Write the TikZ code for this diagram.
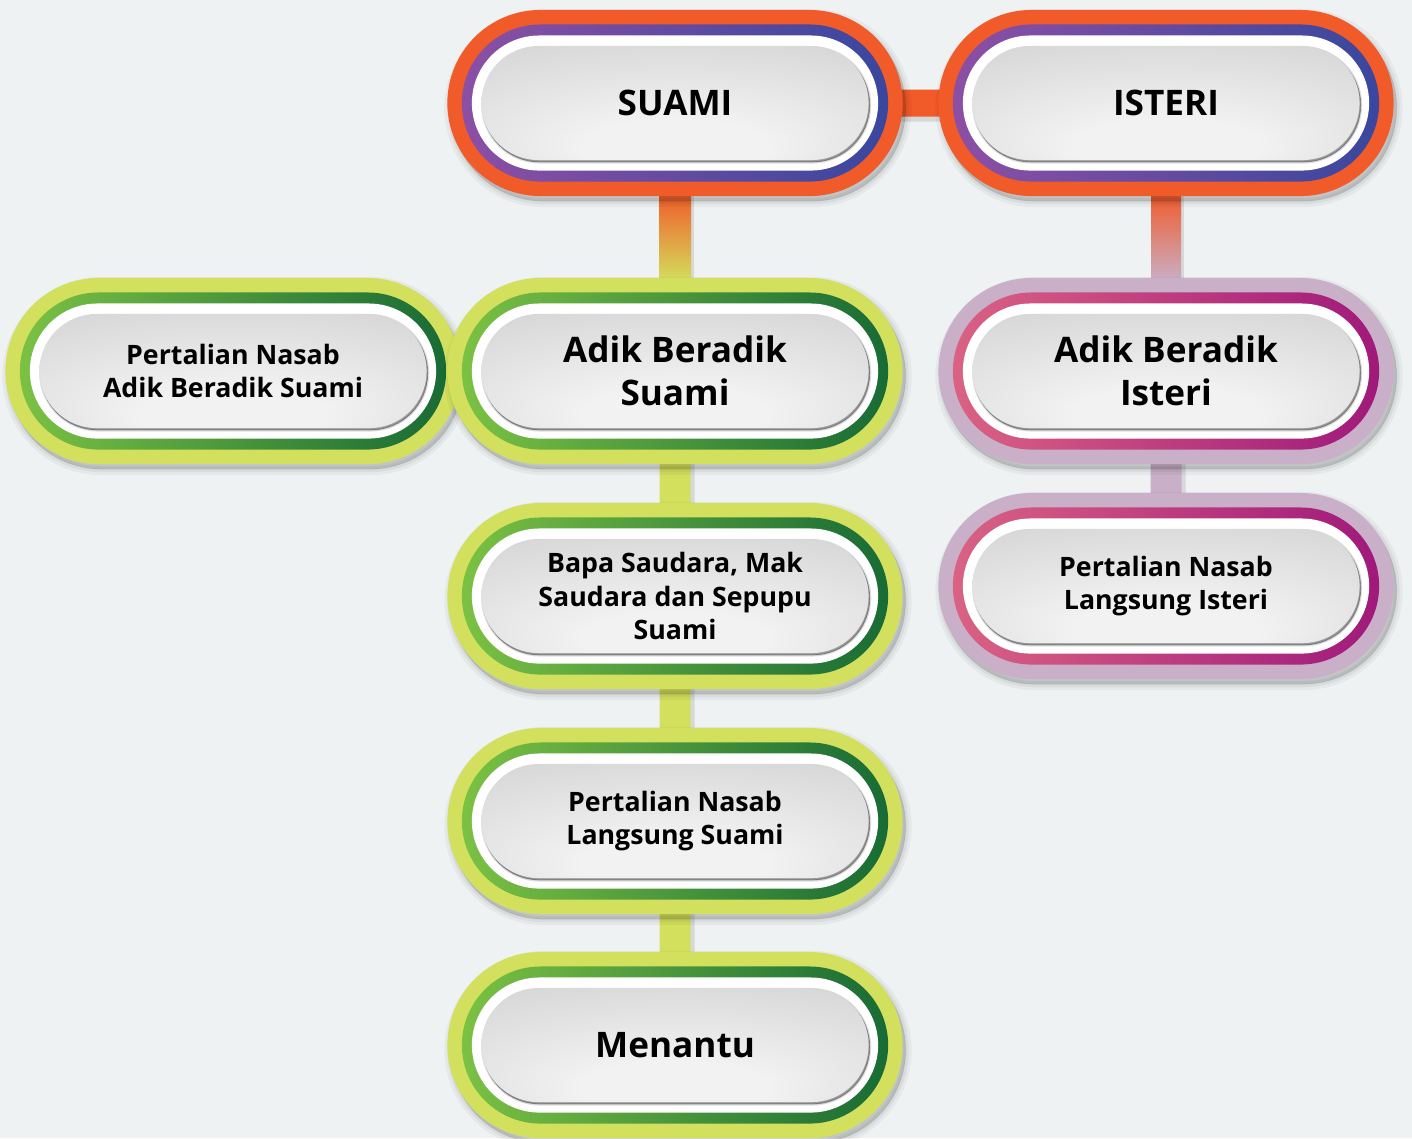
\documentclass[tikz,border=0pt]{standalone}
\usepackage{fontspec}
\setmainfont{Open Sans}
\usetikzlibrary{
    shapes.misc,
    calc,
    positioning
}

\definecolor{bgc}{HTML}{EEF2F3}
\definecolor{kinorange}{HTML}{F15A29}
\definecolor{kinpurple}{HTML}{8C4FA4}
\definecolor{kinblue}{HTML}{39479E}
\definecolor{kinlime}{HTML}{D3E05E}
\definecolor{kinlgreen}{HTML}{7BC143}
\definecolor{kindgreen}{HTML}{186B35}
\definecolor{kinmauve}{HTML}{C9B0C8}
\definecolor{kinpink}{HTML}{DA6283}
\definecolor{kinmagenta}{HTML}{A0197B}
\definecolor{pillA}{HTML}{F2F2F2}
\definecolor{pillB}{HTML}{DADADA}
\definecolor{pillC}{HTML}{C4C4C4}

\pgfdeclareradialshading{pillgray}{\pgfpoint{0bp}{-24bp}}{color(0bp)=(pillA); color(12bp)=(pillA); color(36bp)=(pillB); color(60bp)=(pillC)}

\pgfdeclarelayer{bg}
\pgfdeclarelayer{links}
\pgfsetlayers{bg,links,main}

\tikzset{
    softshadow/.style 2 args={preaction={fill=black, draw=black, opacity=#1, line width=#2,
        transform canvas={shift={(0.03cm,-0.05cm)}}}},
    outershadow/.style={softshadow={0.04}{0.12cm}, softshadow={0.05}{0.06cm}, softshadow={0.06}{0.01cm}},
    innershadow/.style={preaction={fill=black, draw=black, opacity=0.12, line width=0.03cm,
            transform canvas={shift={(0.012cm,-0.02cm)}}},
        preaction={fill=black, draw=black, opacity=0.25, line width=0.008cm,
            transform canvas={shift={(0.012cm,-0.02cm)}}}},
    outerpill/.style={rounded rectangle, inner sep=0pt, minimum width=4.55cm, minimum height=1.86cm, outershadow},
    midpill/.style={rounded rectangle, inner sep=0pt, minimum width=4.26cm, minimum height=1.57cm},
    whitepill/.style={rounded rectangle, inner sep=0pt, minimum width=4.06cm, minimum height=1.35cm, fill=white},
    graypill/.style={rounded rectangle, inner sep=0pt, minimum width=3.87cm, minimum height=1.14cm,
        shading=pillgray, align=center, innershadow},
    kinbig/.style={font=\fontsize{10}{12.3}\selectfont\bfseries},
    kinsmall/.style={font=\fontsize{7.6}{9.5}\selectfont\bfseries},
    hlink/.style={line width=0.27cm,
        preaction={draw=black, opacity=0.10, line width=0.31cm, transform canvas={yshift=-0.03cm}}},
    vlink/.style={line width=0.31cm,
        preaction={draw=black, opacity=0.10, line width=0.33cm, transform canvas={xshift=0.03cm}}},
    glink/.style={preaction={fill=black, opacity=0.10, transform canvas={xshift=0.03cm}}}
}

% name, position, outer colour, ring left, ring right, font style, text
\newcommand{\famnode}[7]{%
    \node[outerpill, fill=#3] (#1-o) at (#2) {};
    \node[midpill, left color=#4, right color=#5] at (#2) {};
    \node[whitepill] at (#2) {};
    \node[graypill, #6] (#1) at (#2) {#7};
}

\begin{document}
\begin{tikzpicture}[x=0.01cm, y=-0.01cm]
    \useasboundingbox (0, 0) rectangle (1412, 1138);
    \begin{pgfonlayer}{bg}
        \fill[bgc] (0, 0) rectangle (1412, 1138);
    \end{pgfonlayer}

    \famnode{suami}{675, 103}{kinorange}{kinpurple}{kinblue}{kinbig}{SUAMI}
    \famnode{isteri}{1166, 103}{kinorange}{kinpurple}{kinblue}{kinbig}{ISTERI}
    \famnode{nasabadik}{233, 371}{kinlime}{kinlgreen}{kindgreen}{kinsmall}{Pertalian Nasab\\Adik Beradik Suami}
    \famnode{adiksuami}{675, 371}{kinlime}{kinlgreen}{kindgreen}{kinbig}{Adik Beradik\\Suami}
    \famnode{adikisteri}{1166, 371}{kinmauve}{kinpink}{kinmagenta}{kinbig}{Adik Beradik\\Isteri}
    \famnode{sepupu}{675, 596}{kinlime}{kinlgreen}{kindgreen}{kinsmall}{Bapa Saudara, Mak\\Saudara dan Sepupu\\Suami}
    \famnode{nasabisteri}{1166, 586}{kinmauve}{kinpink}{kinmagenta}{kinsmall}{Pertalian Nasab\\Langsung Isteri}
    \famnode{nasabsuami}{675, 821}{kinlime}{kinlgreen}{kindgreen}{kinsmall}{Pertalian Nasab\\Langsung Suami}
    \famnode{menantu}{675, 1045}{kinlime}{kinlgreen}{kindgreen}{kinbig}{Menantu}

    \begin{pgfonlayer}{links}
        \draw[hlink, kinorange] (suami) -- (isteri);
        \draw[hlink, kinlime] (nasabadik) -- (adiksuami);
        \draw[vlink, kinlime] (adiksuami) -- (sepupu);
        \draw[vlink, kinlime] (sepupu) -- (nasabsuami);
        \draw[vlink, kinlime] (nasabsuami) -- (menantu);
        \draw[vlink, kinmauve] (adikisteri) -- (nasabisteri);
        \path[glink, top color=kinorange, bottom color=kinlime]
            ($(suami-o.south)+(-16, -5)$) rectangle ($(adiksuami-o.north)+(16, 5)$);
        \path[glink, top color=kinorange, bottom color=kinmauve]
            ($(isteri-o.south)+(-15, -5)$) rectangle ($(adikisteri-o.north)+(15, 5)$);
    \end{pgfonlayer}
\end{tikzpicture}
\end{document}
